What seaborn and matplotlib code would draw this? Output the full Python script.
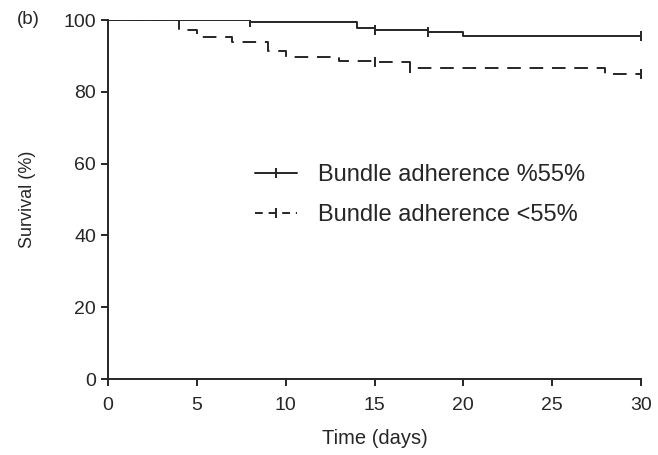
import matplotlib
matplotlib.use("Agg")
import matplotlib.pyplot as plt
import seaborn as sns
import pandas as pd
from matplotlib.lines import Line2D

# Data (Kaplan-Meier step points)
high_time = [0, 8, 14, 15, 18, 20, 30]
high_surv = [100, 99.5, 97.8, 97.2, 96.7, 95.6, 95.6]
high_cens_time = [8, 15, 18, 30]
high_cens_surv = [99.5, 97.2, 96.7, 95.6]

low_time = [0, 4, 5, 7, 9, 10, 13, 15, 17, 28, 30]
low_surv = [100, 97.3, 95.2, 93.8, 91.4, 89.8, 88.7, 88.2, 86.5, 84.9, 84.9]
low_cens_time = [15, 17, 30]
low_cens_surv = [88.2, 86.5, 84.9]

labels = ["Bundle adherence %55%", "Bundle adherence <55%"]
x_ticks = [0, 5, 10, 15, 20, 25, 30]
y_ticks = [0, 20, 40, 60, 80, 100]

sns.set_theme(style="ticks")
plt.rcParams["font.family"] = ["Liberation Sans", "DejaVu Sans"]

INK = "#262626"
LW = 1.4
df = pd.concat([
    pd.DataFrame({"time": high_time, "surv": high_surv, "group": labels[0]}),
    pd.DataFrame({"time": low_time, "surv": low_surv, "group": labels[1]}),
])

fig = plt.figure(figsize=(6.58, 4.55), dpi=100)
ax = fig.add_axes([108 / 658, 1 - 379 / 455, 533 / 658, 359 / 455])

sns.lineplot(data=df[df.group == labels[0]], x="time", y="surv", ax=ax,
             drawstyle="steps-post", color=INK, lw=LW, legend=False)
sns.lineplot(data=df[df.group == labels[1]], x="time", y="surv", ax=ax,
             drawstyle="steps-post", color=INK, lw=LW, legend=False,
             dashes=False)
ax.lines[1].set_dashes((7, 4.5))

ax.plot(high_cens_time, high_cens_surv, ls="none", marker="|", ms=7,
        mew=LW, color=INK)
ax.plot(low_cens_time, low_cens_surv, ls="none", marker="|", ms=7,
        mew=LW, color=INK)

ax.set_xlim(0, 30)
ax.set_ylim(0, 100)
ax.set_xticks(x_ticks)
ax.set_yticks(y_ticks)
ax.set_xlabel("Time (days)", fontsize=14.5, color=INK, labelpad=11)
ax.set_ylabel("Survival (%)", fontsize=13, color=INK, labelpad=20)
ax.tick_params(axis="both", labelsize=14, colors=INK, length=5, width=LW,
               direction="out")
ax.tick_params(axis="x", pad=8)
for s in ["left", "bottom"]:
    ax.spines[s].set_color(INK)
    ax.spines[s].set_linewidth(LW)
sns.despine(ax=ax)

handles = [
    Line2D([], [], color=INK, lw=LW, marker="|", ms=7, mew=LW),
    Line2D([], [], color=INK, lw=LW, dashes=(4, 3), marker="|", ms=7, mew=LW),
]
leg = ax.legend(handles, labels, loc="center", bbox_to_anchor=(0.585, 0.512),
                frameon=False, fontsize=17, handlelength=1.8,
                handletextpad=0.85, labelspacing=0.75)
for t in leg.get_texts():
    t.set_color(INK)
# put the tick marker in the middle of the legend handle lines
for h in leg.legend_handles:
    xd = h.get_xdata()
    h.set_xdata([xd[0], (xd[0] + xd[-1]) / 2, xd[-1]])
    yd = h.get_ydata()
    h.set_ydata([yd[0], yd[0], yd[-1]])
    h.set_markevery([1])

fig.text(17 / 658, 1 - 20 / 455, "(b)", fontsize=13.5, color=INK, va="center")

fig.savefig("out.png", dpi=100)
